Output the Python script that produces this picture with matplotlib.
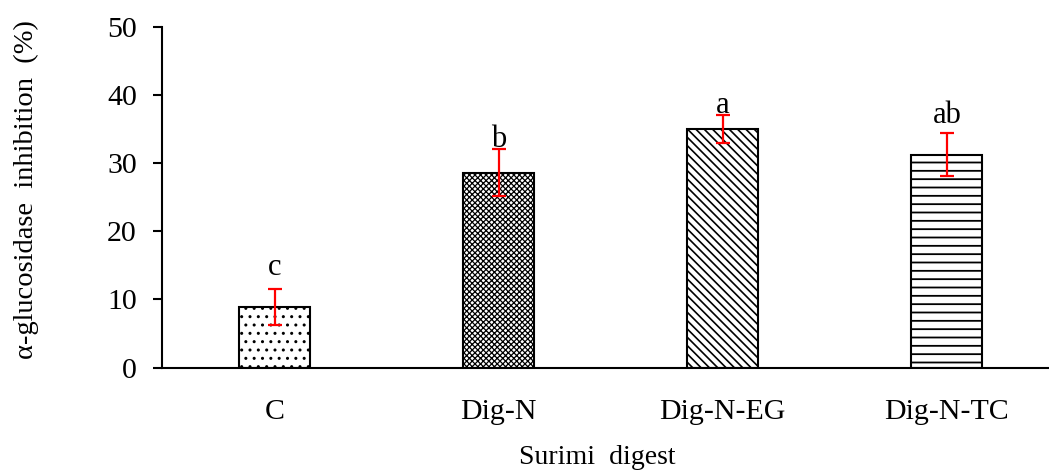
import matplotlib
matplotlib.use("Agg")
import matplotlib.pyplot as plt

# Data
categories = ["C", "Dig-N", "Dig-N-EG", "Dig-N-TC"]
inhibition = [8.9, 28.6, 35.0, 31.2]
errors = [2.65, 3.5, 2.1, 3.15]
letters = ["c", "b", "a", "ab"]
letter_y = [13.6, 32.4, 37.3, 35.9]
y_ticks = [0, 10, 20, 30, 40, 50]

hatches = ["..", "xxxxxx", "\\\\\\\\", "--"]
hatch_widths = [1.0, 0.9, 1.2, 1.3]

plt.rcParams["font.family"] = ["Liberation Serif", "DejaVu Serif"]

fig = plt.figure(figsize=(10.49, 4.75), dpi=100)
ax = fig.add_axes([0.1549, 0.2263, 0.8546, 0.7175])

x = list(range(len(categories)))
for xi, val, h, hw in zip(x, inhibition, hatches, hatch_widths):
    with plt.rc_context({"hatch.linewidth": hw}):
        bars = ax.bar(xi, val, width=0.316, color="white", edgecolor="black",
                      linewidth=1.5, hatch=h, zorder=2)
    for b in bars:
        if hasattr(b, "set_hatch_linewidth"):
            b.set_hatch_linewidth(hw)

ax.errorbar(x, inhibition, yerr=errors, fmt="none", ecolor="red",
            elinewidth=1.6, capsize=5, capthick=1.6, zorder=3)

for xi, lab, ly in zip(x, letters, letter_y):
    ax.text(xi, ly, lab, ha="center", va="baseline", fontsize=22)

ax.set_xlim(-0.5, 3.5)
ax.set_ylim(0, 50)
ax.set_yticks(y_ticks)
ax.set_xticks(x)
ax.set_xticklabels(categories)

for side in ("top", "right"):
    ax.spines[side].set_visible(False)
ax.spines["left"].set_linewidth(1.5)
ax.spines["bottom"].set_linewidth(1.5)

ax.tick_params(axis="y", direction="out", length=6.5, width=1.5,
               labelsize=21.5, pad=12)
ax.tick_params(axis="x", length=0, labelsize=21.5, pad=23)

ax.set_ylabel("\u03b1-glucosidase  inhibition  (%)", fontsize=20.5)
ax.yaxis.set_label_coords(-0.1378, 0.521)
ax.set_xlabel("Surimi  digest", fontsize=20, va="center")
ax.xaxis.set_label_coords(0.4847, -0.2655)

fig.savefig("out.png", dpi=100)
